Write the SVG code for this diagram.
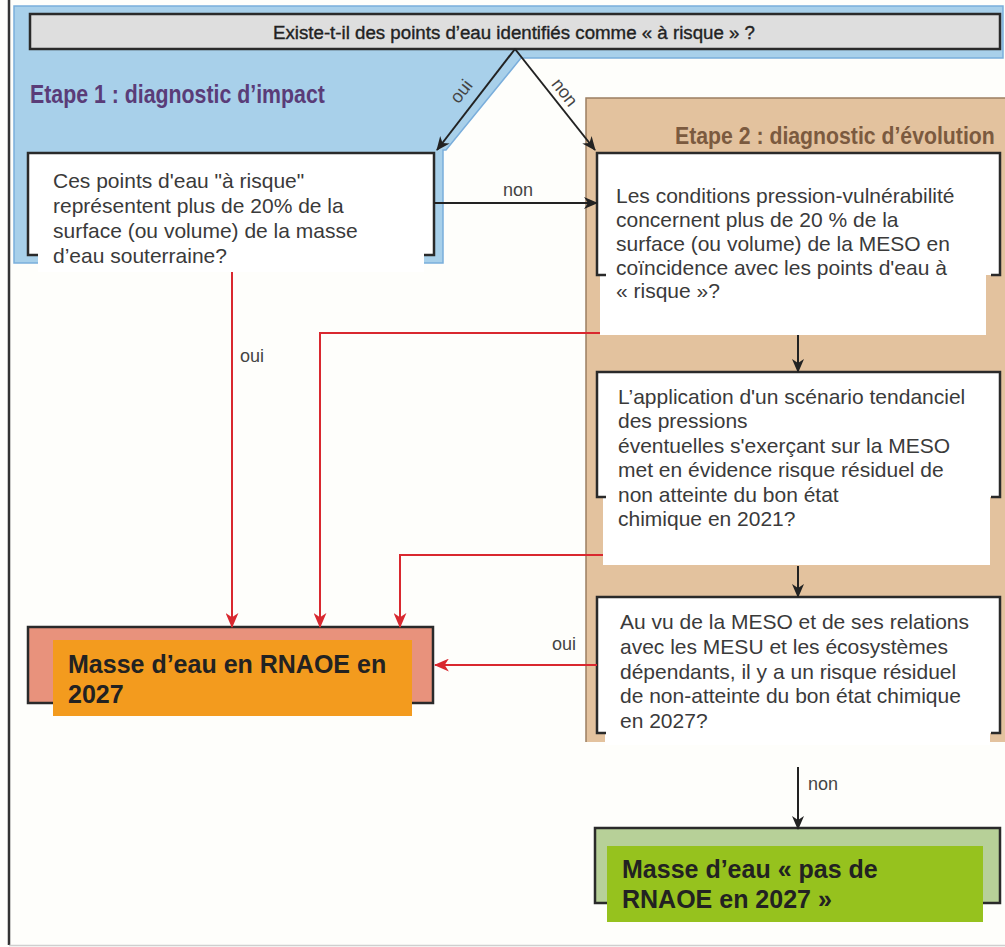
<svg xmlns="http://www.w3.org/2000/svg" width="1005" height="947" viewBox="0 0 1005 947">
<style>
.bracket{fill:none;stroke:#2a2a2a;stroke-width:2.5}
.white{fill:#ffffff}
.body{font-family:"Liberation Sans",Arial,sans-serif;font-size:21px;fill:#3a3a3a}
.lbl{font-family:"Liberation Sans",Arial,sans-serif;font-size:18px;fill:#444}
.big{font-family:"Liberation Sans",Arial,sans-serif;font-size:25px;font-weight:bold;fill:#222}
.etape{font-family:"Liberation Sans",Arial,sans-serif;font-weight:bold}
.red{stroke:#d9282f;stroke-width:2;fill:none}
.blk{stroke:#222;stroke-width:2;fill:none}
</style>
<defs>
<marker id="ab" viewBox="0 0 14 12" refX="13" refY="6" markerWidth="14" markerHeight="12" markerUnits="userSpaceOnUse" orient="auto">
<path d="M0,0 L14,6 L0,12 L4,6 Z" fill="#222"/>
</marker>
<marker id="ar" viewBox="0 0 14 12" refX="13" refY="6" markerWidth="15" markerHeight="13" markerUnits="userSpaceOnUse" orient="auto">
<path d="M0,0 L14,6 L0,12 L4,6 Z" fill="#d9282f"/>
</marker>
</defs>
<rect width="1005" height="947" fill="#fefefb"/>
<line x1="9" y1="0" x2="9" y2="945" stroke="#333" stroke-width="2.5"/>
<line x1="9" y1="945.5" x2="1005" y2="945.5" stroke="#cfcfcf" stroke-width="1.5"/>

<g id="etape1">
<path d="M14,6 H1003 V58 H521 L446,150 H443 V263 H14 Z" fill="#a8d0ea" stroke="#7aaedb" stroke-width="1.5"/>
<text class="etape" font-size="26" fill="#5a3c78" transform="translate(30,103) scale(0.82,1)">Etape 1 : diagnostic d’impact</text>
</g>

<g id="etape2">
<rect x="586" y="98" width="420" height="644" fill="#e3c29e"/>
<path d="M586,742 V98 H1005" fill="none" stroke="#9c7f62" stroke-width="1.5"/>
<text class="etape" font-size="24" fill="#7b5a3f" transform="translate(675,144) scale(0.885,1)">Etape 2 : diagnostic d’évolution</text>
</g>

<g id="question">
<rect x="30" y="14" width="970" height="35" fill="#dedede" stroke="#2a2a2a" stroke-width="2.5"/>
<text x="273" y="39" font-family="'Liberation Sans',Arial,sans-serif" font-size="18" fill="#222" stroke="#222" stroke-width="0.35" textLength="482" lengthAdjust="spacingAndGlyphs">Existe-t-il des points d’eau identifiés comme « à risque » ?</text>
</g>

<g id="box1">
<rect class="white" x="28" y="153" width="406" height="102"/>
<rect class="white" x="38" y="154" width="386" height="118"/>
<path class="bracket" d="M38,255 H28 V153 H434 V255 H424"/>
<text class="body"><tspan x="53" y="188">Ces points d'eau "à risque"</tspan><tspan x="53" y="213">représentent plus de 20% de la</tspan><tspan x="53" y="238">surface (ou volume) de la masse</tspan><tspan x="53" y="263">d’eau souterraine?</tspan></text>
</g>

<g id="box2">
<rect class="white" x="597" y="153" width="403" height="122"/>
<rect class="white" x="600" y="154" width="386" height="181"/>
<path class="bracket" d="M606,275 H597 V153 H1000 V275 H991"/>
<text class="body"><tspan x="616" y="203">Les conditions pression-vulnérabilité</tspan><tspan x="616" y="227">concernent plus de 20 % de la</tspan><tspan x="616" y="251">surface (ou volume) de la MESO en</tspan><tspan x="616" y="275">coïncidence avec les points d'eau à</tspan><tspan x="616" y="298">« risque »?</tspan></text>
</g>

<g id="box3">
<rect class="white" x="597" y="372" width="403" height="125"/>
<rect class="white" x="603" y="373" width="387" height="192"/>
<path class="bracket" d="M606,497 H597 V372 H1000 V497 H991"/>
<text class="body"><tspan x="618" y="404">L’application d'un scénario tendanciel</tspan><tspan x="618" y="428">des pressions</tspan><tspan x="618" y="452.5">éventuelles s'exerçant sur la MESO</tspan><tspan x="618" y="477">met en évidence risque résiduel de</tspan><tspan x="618" y="501.5">non atteinte du bon état</tspan><tspan x="618" y="526">chimique en 2021?</tspan></text>
</g>

<g id="box4">
<rect class="white" x="597" y="597" width="403" height="136"/>
<rect class="white" x="605" y="598" width="385" height="147"/>
<path class="bracket" d="M606,733 H597 V597 H1000 V733 H991"/>
<text class="body"><tspan x="620" y="629">Au vu de la MESO et de ses relations</tspan><tspan x="620" y="654">avec les MESU et les écosystèmes</tspan><tspan x="620" y="678.5">dépendants, il y a un risque résiduel</tspan><tspan x="620" y="703">de non-atteinte du bon état chimique</tspan><tspan x="620" y="728">en 2027?</tspan></text>
</g>

<g id="rnaoe">
<rect x="28" y="627" width="405" height="76" fill="#e8927c" stroke="#2a2a2a" stroke-width="2.5"/>
<rect x="53" y="640" width="359" height="76" fill="#f39b1e"/>
<text class="big"><tspan x="68" y="673">Masse d’eau en RNAOE en</tspan><tspan x="68" y="703">2027</tspan></text>
</g>

<g id="pas-rnaoe">
<rect x="595" y="828" width="405" height="75" fill="#b7d098" stroke="#2a2a2a" stroke-width="2.5"/>
<rect x="607" y="846" width="376" height="76" fill="#96c21e"/>
<text class="big"><tspan x="622" y="878">Masse d’eau « pas de</tspan><tspan x="622" y="908">RNAOE en 2027 »</tspan></text>
</g>

<g id="connectors">
<line class="blk" x1="515" y1="49" x2="437" y2="150" marker-end="url(#ab)"/>
<line class="blk" x1="515" y1="49" x2="595" y2="150" marker-end="url(#ab)"/>
<text class="lbl" text-anchor="middle" transform="translate(466,95) rotate(-52)">oui</text>
<text class="lbl" text-anchor="middle" transform="translate(560,96) rotate(52)">non</text>
<line class="blk" x1="434" y1="203" x2="597" y2="203" marker-end="url(#ab)"/>
<text class="lbl" x="503" y="196">non</text>
<line class="blk" x1="798" y1="335" x2="798" y2="372" marker-end="url(#ab)"/>
<line class="blk" x1="798" y1="566" x2="798" y2="597" marker-end="url(#ab)"/>
<line class="blk" x1="798" y1="767" x2="798" y2="829" marker-end="url(#ab)"/>
<text class="lbl" x="808" y="790">non</text>
<path class="red" d="M232,272 V627" marker-end="url(#ar)"/>
<text class="lbl" x="240" y="362">oui</text>
<path class="red" d="M600,333 H320 V627" marker-end="url(#ar)"/>
<path class="red" d="M603,555 H400 V627" marker-end="url(#ar)"/>
<path class="red" d="M597,665 H435" marker-end="url(#ar)"/>
<text class="lbl" x="552" y="650">oui</text>
</g>
</svg>
